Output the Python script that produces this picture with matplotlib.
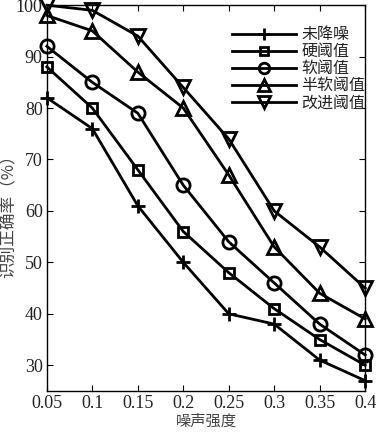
import matplotlib
matplotlib.use('Agg')
import matplotlib.pyplot as plt

plt.rcParams['font.family'] = ['Liberation Serif', 'Noto Sans CJK SC']

noise = [0.05, 0.1, 0.15, 0.2, 0.25, 0.3, 0.35, 0.4]
no_denoise = [82, 76, 61, 50, 40, 38, 31, 27]
hard = [88, 80, 68, 56, 48, 41, 35, 30]
soft = [92, 85, 79, 65, 54, 46, 38, 32]
semi_soft = [98, 95, 87, 80, 67, 53, 44, 39]
improved = [100, 99, 94, 84, 74, 60, 53, 45]

labels = ['未降噪', '硬阈值', '软阈值', '半软阈值', '改进阈值']
markers = ['+', 's', 'o', '^', 'v']
series = [no_denoise, hard, soft, semi_soft, improved]
sizes = {'+': 10, 's': 7.5, 'o': 9.5, '^': 10, 'v': 10}

fig = plt.figure(figsize=(3.78, 4.32), dpi=100)
ax = fig.add_axes([0.124, 0.095, 0.842, 0.893])

for y, m, lab in zip(series, markers, labels):
    ax.plot(noise, y, '-', color='black', lw=2, marker=m, ms=sizes[m],
            mfc='none', mec='black', mew=2, label=lab, clip_on=False)

ax.set_xlim(0.05, 0.4)
ax.set_ylim(25, 100)
ax.set_xticks(noise)
ax.set_xticklabels(['0.05', '0.1', '0.15', '0.2', '0.25', '0.3', '0.35', '0.4'])
ax.set_yticks([30, 40, 50, 60, 70, 80, 90, 100])
ax.tick_params(direction='in', top=True, right=True, labelsize=13, length=4,
               labelcolor='#222222', pad=3)
for s in ax.spines.values():
    s.set_linewidth(1)

ax.set_xlabel('噪声强度', fontsize=11, family=['Noto Sans CJK SC'], color='#444444')
ax.xaxis.set_label_coords(0.5, -0.057)
ax.set_ylabel('识别正确率（%）', fontsize=12, family=['Noto Sans CJK SC'], color='#444444')
ax.yaxis.set_label_coords(-0.094, 0.464)

leg = ax.legend(loc='upper right', bbox_to_anchor=(1.0, 0.945), frameon=False,
                handlelength=4, prop={'family': ['Noto Sans CJK SC'], 'size': 11.5},
                labelspacing=0.0, borderaxespad=0, borderpad=0, handletextpad=0.3,
                markerscale=0.8)
for t in leg.get_texts():
    t.set_color('#222222')

fig.savefig('out.png', dpi=100)
